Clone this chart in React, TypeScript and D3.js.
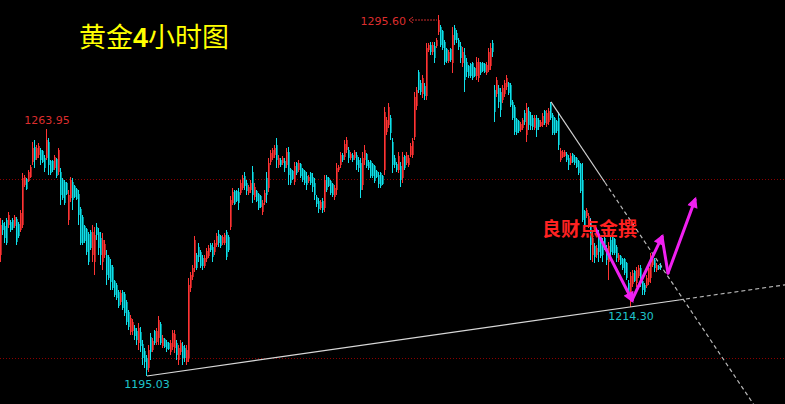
import * as d3 from 'd3'

// open, high, low, close
type Bar = [number, number, number, number]

const W = 785
const H = 404

// first rally to 1263.95
const legUp1: Bar[] = [
  [1228.8, 1239.1, 1226.8, 1237.1], [1237.7, 1238.5, 1234.3, 1235.7], [1236.8, 1237.9, 1232.1, 1233.5],
  [1238.5, 1239.1, 1231.5, 1232.1], [1237.1, 1240.7, 1236.3, 1239.9], [1237.9, 1238.5, 1235.2, 1235.7],
  [1238.5, 1239.1, 1235.7, 1236.3], [1236.8, 1239.9, 1236.3, 1239.3], [1238.7, 1239.3, 1231.5, 1232.4],
  [1237.4, 1237.9, 1233.5, 1234.0], [1235.7, 1241.3, 1235.2, 1240.4], [1237.1, 1251.6, 1236.3, 1250.2],
  [1248.3, 1251.0, 1247.7, 1250.5], [1249.9, 1250.2, 1246.9, 1247.1], [1249.4, 1252.4, 1249.1, 1251.9],
  [1250.5, 1253.8, 1250.2, 1253.3], [1254.7, 1260.2, 1253.8, 1258.6], [1258.8, 1260.8, 1253.0, 1255.2],
  [1255.8, 1259.4, 1255.2, 1258.6], [1256.6, 1260.0, 1255.8, 1259.1], [1258.0, 1258.6, 1253.8, 1255.2],
  [1257.7, 1258.0, 1254.4, 1254.7], [1255.8, 1256.6, 1251.9, 1253.0], [1255.8, 1263.95, 1255.2, 1260.8],
  [1260.2, 1261.4, 1251.0, 1253.8], [1254.9, 1255.2, 1251.0, 1251.6], [1254.9, 1255.2, 1251.9, 1252.4],
  [1253.0, 1256.6, 1252.4, 1256.0], [1255.5, 1255.8, 1250.2, 1250.8], [1251.9, 1258.6, 1251.0, 1258.0],
]

// slide down to 1195.03
const legDown1: Bar[] = [
  [1251.9, 1253.0, 1242.7, 1245.5], [1249.7, 1250.2, 1244.1, 1244.6], [1249.1, 1249.7, 1242.7, 1243.2],
  [1248.8, 1249.1, 1245.5, 1245.8], [1238.5, 1246.9, 1237.1, 1245.5], [1244.6, 1250.5, 1243.5, 1249.7],
  [1249.1, 1250.2, 1241.3, 1244.1], [1248.0, 1248.3, 1244.6, 1244.9], [1247.1, 1247.4, 1244.1, 1244.4],
  [1245.8, 1246.9, 1237.1, 1239.9], [1241.6, 1242.1, 1231.5, 1232.1], [1239.3, 1239.9, 1231.5, 1232.1],
  [1236.8, 1237.1, 1232.1, 1232.6], [1236.0, 1236.3, 1228.8, 1229.6], [1234.6, 1235.2, 1226.0, 1226.8],
  [1235.2, 1235.7, 1230.2, 1230.7], [1228.8, 1237.1, 1226.8, 1235.2], [1226.8, 1236.6, 1223.2, 1234.3],
  [1236.6, 1237.7, 1232.9, 1234.3], [1235.2, 1236.3, 1228.8, 1230.7], [1233.5, 1235.2, 1226.0, 1228.8],
  [1226.8, 1234.9, 1224.6, 1232.9], [1228.8, 1232.9, 1227.9, 1231.8], [1228.8, 1230.2, 1220.4, 1223.2],
  [1228.2, 1228.8, 1221.8, 1222.3], [1226.0, 1227.6, 1219.0, 1221.2], [1225.4, 1226.0, 1219.0, 1219.6],
  [1221.5, 1221.8, 1217.1, 1217.6], [1220.4, 1220.9, 1216.2, 1216.8], [1218.4, 1219.0, 1214.0, 1214.5],
  [1215.7, 1219.0, 1214.8, 1218.2], [1218.4, 1219.0, 1213.4, 1214.0], [1217.9, 1218.4, 1211.8, 1212.6],
  [1215.7, 1216.2, 1209.3, 1210.1], [1212.9, 1213.4, 1207.9, 1208.7], [1207.3, 1212.0, 1206.5, 1211.2],
  [1207.6, 1210.9, 1206.5, 1210.1], [1208.5, 1209.3, 1205.1, 1206.2], [1207.6, 1208.5, 1203.7, 1205.1],
  [1204.2, 1209.8, 1202.3, 1208.5], [1207.3, 1208.7, 1201.7, 1203.4], [1204.0, 1205.1, 1198.1, 1200.1],
  [1202.0, 1202.8, 1197.3, 1198.9], [1200.1, 1200.9, 1195.03, 1196.7], [1197.3, 1203.7, 1196.2, 1202.3],
  [1205.9, 1207.0, 1199.5, 1201.7], [1202.3, 1205.6, 1201.7, 1204.8], [1207.6, 1207.9, 1203.7, 1204.2],
  [1204.5, 1208.5, 1203.7, 1207.6], [1205.6, 1211.8, 1203.7, 1210.6], [1209.5, 1210.1, 1203.7, 1204.2],
  [1203.4, 1206.5, 1202.8, 1205.6], [1205.4, 1205.6, 1202.8, 1203.1], [1204.5, 1205.1, 1201.7, 1202.6],
  [1204.2, 1204.5, 1202.3, 1202.6], [1201.7, 1205.1, 1200.9, 1204.2], [1203.1, 1207.9, 1202.3, 1207.0],
  [1202.8, 1207.9, 1201.5, 1206.7], [1204.2, 1205.1, 1199.5, 1200.9], [1199.5, 1203.7, 1198.1, 1202.8],
  [1201.7, 1205.1, 1200.9, 1204.2], [1203.4, 1204.5, 1198.1, 1200.1], [1202.8, 1203.7, 1198.9, 1200.1],
  [1198.9, 1203.7, 1198.1, 1202.3],
]

// recovery and range
const legUp2: Bar[] = [
  [1200.1, 1222.3, 1198.9, 1220.4], [1219.6, 1224.0, 1218.4, 1223.2], [1222.6, 1226.0, 1221.8, 1225.1],
  [1225.1, 1234.0, 1224.0, 1232.9], [1228.8, 1229.3, 1224.6, 1225.1], [1231.0, 1232.1, 1226.8, 1228.2],
  [1229.6, 1230.2, 1225.1, 1225.7], [1227.9, 1228.8, 1224.6, 1225.7], [1225.7, 1228.8, 1225.1, 1227.9],
  [1227.6, 1230.7, 1226.8, 1229.9], [1228.5, 1231.5, 1227.9, 1230.7], [1231.5, 1232.1, 1229.6, 1230.2],
  [1231.0, 1232.1, 1226.8, 1228.2], [1229.6, 1232.9, 1228.8, 1232.1], [1231.5, 1234.9, 1231.0, 1234.0],
  [1234.6, 1235.7, 1231.0, 1232.1], [1234.0, 1234.3, 1230.7, 1231.3], [1232.1, 1234.3, 1231.5, 1233.8],
  [1232.1, 1234.9, 1231.5, 1234.3], [1235.2, 1235.7, 1227.4, 1228.2], [1233.8, 1234.3, 1229.6, 1230.2],
  [1236.6, 1245.2, 1235.7, 1244.1], [1243.2, 1247.4, 1242.7, 1246.3], [1246.6, 1246.9, 1242.7, 1243.0],
  [1246.6, 1246.9, 1243.5, 1243.8], [1246.3, 1247.4, 1241.3, 1243.2], [1246.1, 1249.7, 1245.5, 1248.8],
  [1247.4, 1251.0, 1246.9, 1250.2], [1250.8, 1251.9, 1246.9, 1248.0], [1248.8, 1249.7, 1245.5, 1246.6],
  [1246.1, 1248.3, 1245.5, 1247.7], [1246.9, 1249.7, 1246.1, 1248.8], [1251.9, 1253.5, 1243.2, 1245.5],
  [1244.9, 1248.8, 1244.1, 1247.7], [1246.6, 1246.9, 1243.5, 1243.8], [1245.8, 1246.1, 1241.3, 1241.9],
  [1245.2, 1245.5, 1241.9, 1242.1], [1240.7, 1244.1, 1239.9, 1243.2], [1243.5, 1246.9, 1242.7, 1246.1],
  [1250.2, 1251.9, 1243.2, 1245.5], [1247.4, 1255.8, 1246.3, 1254.4], [1254.7, 1258.0, 1253.8, 1257.2],
  [1255.8, 1258.6, 1255.2, 1258.0], [1256.6, 1259.4, 1255.8, 1258.6], [1259.4, 1261.4, 1253.0, 1255.2],
  [1253.8, 1256.6, 1253.0, 1255.8], [1255.2, 1255.8, 1253.3, 1253.8], [1254.4, 1256.3, 1253.8, 1255.8],
  [1254.9, 1255.8, 1251.9, 1253.0], [1253.8, 1258.6, 1253.0, 1257.5], [1257.5, 1258.8, 1248.3, 1251.0],
  [1252.7, 1253.0, 1248.3, 1248.8], [1252.2, 1252.4, 1249.7, 1249.9], [1249.1, 1254.7, 1248.3, 1253.5],
  [1254.4, 1254.7, 1251.0, 1251.6], [1252.4, 1255.2, 1251.9, 1254.4], [1254.1, 1254.4, 1250.2, 1250.8],
  [1252.7, 1253.0, 1249.1, 1249.7], [1252.2, 1252.4, 1248.3, 1248.8], [1250.8, 1251.9, 1246.9, 1248.3],
  [1249.4, 1251.0, 1248.8, 1250.5], [1251.6, 1251.9, 1248.3, 1248.8], [1250.5, 1251.6, 1246.3, 1247.7],
  [1248.8, 1250.2, 1244.1, 1245.5], [1244.9, 1245.5, 1242.1, 1243.0], [1243.8, 1244.6, 1240.4, 1241.6],
  [1241.9, 1244.1, 1241.3, 1243.5], [1243.8, 1244.6, 1240.4, 1241.3], [1241.9, 1251.0, 1240.7, 1249.7],
  [1250.5, 1251.0, 1246.3, 1246.9], [1250.2, 1250.5, 1247.7, 1248.0], [1249.4, 1249.7, 1245.5, 1246.1],
  [1248.5, 1248.8, 1244.9, 1245.5], [1244.9, 1248.3, 1244.1, 1247.4], [1246.9, 1254.4, 1245.5, 1253.0],
  [1252.4, 1253.8, 1251.9, 1253.3], [1253.8, 1257.5, 1253.0, 1256.6], [1256.6, 1257.2, 1254.7, 1255.2],
  [1256.0, 1260.8, 1255.2, 1259.7], [1258.0, 1261.6, 1257.2, 1260.8], [1258.0, 1258.8, 1254.4, 1255.8],
  [1255.8, 1257.5, 1255.2, 1256.9], [1256.6, 1257.2, 1254.7, 1255.2], [1255.8, 1258.0, 1255.2, 1257.5],
  [1256.6, 1257.5, 1252.4, 1253.8], [1255.2, 1256.0, 1251.9, 1253.0], [1254.4, 1255.8, 1244.6, 1246.9],
  [1248.3, 1257.5, 1246.9, 1255.8], [1255.2, 1259.4, 1253.8, 1258.0], [1256.9, 1257.2, 1253.0, 1253.5],
  [1254.7, 1255.2, 1252.4, 1253.0], [1254.9, 1255.2, 1250.2, 1250.8], [1254.1, 1254.4, 1250.2, 1250.8],
  [1253.5, 1253.8, 1248.8, 1249.4], [1252.2, 1252.4, 1250.2, 1250.5], [1251.0, 1251.9, 1247.4, 1248.5],
  [1251.6, 1251.9, 1247.4, 1248.0], [1250.8, 1251.0, 1248.3, 1248.5],
]

// breakout to 1295.60
const legBreakout: Bar[] = [
  [1252.4, 1270.0, 1251.0, 1268.6], [1263.0, 1267.2, 1262.2, 1266.4], [1265.0, 1271.1, 1264.1, 1270.0],
  [1266.9, 1267.8, 1260.8, 1262.7], [1260.2, 1261.4, 1251.6, 1253.8], [1255.8, 1256.6, 1253.0, 1253.8],
  [1254.1, 1254.7, 1251.9, 1252.4], [1252.4, 1257.5, 1251.6, 1256.3], [1253.5, 1254.7, 1247.7, 1249.7],
  [1250.2, 1257.5, 1248.8, 1256.0], [1256.3, 1256.6, 1252.4, 1253.0], [1254.4, 1257.5, 1253.8, 1256.6],
  [1253.8, 1256.6, 1253.3, 1255.8], [1256.6, 1260.0, 1256.0, 1259.1], [1256.6, 1261.4, 1255.8, 1260.5],
  [1261.6, 1274.2, 1260.8, 1272.8], [1270.3, 1275.6, 1269.2, 1274.7], [1279.7, 1280.3, 1273.9, 1274.7],
  [1276.7, 1277.5, 1273.3, 1274.2], [1273.6, 1278.9, 1272.5, 1278.1], [1275.8, 1276.7, 1271.9, 1273.1],
  [1273.1, 1287.8, 1271.9, 1286.4], [1285.9, 1287.8, 1285.3, 1287.3], [1287.3, 1288.1, 1284.5, 1285.3],
  [1285.3, 1288.1, 1284.5, 1287.3], [1287.0, 1288.1, 1282.2, 1283.6], [1287.0, 1289.2, 1286.4, 1288.7],
  [1290.9, 1295.6, 1290.0, 1294.2], [1292.3, 1292.8, 1286.7, 1287.3], [1291.2, 1291.4, 1285.9, 1286.4],
  [1288.1, 1288.7, 1281.7, 1282.5], [1286.2, 1286.4, 1282.2, 1282.8], [1282.8, 1285.9, 1282.2, 1285.3],
  [1286.2, 1286.4, 1282.5, 1283.1], [1282.2, 1292.3, 1279.5, 1290.0], [1292.0, 1292.8, 1287.3, 1288.7],
  [1290.6, 1291.4, 1287.8, 1288.7], [1288.7, 1289.2, 1285.9, 1286.7], [1287.0, 1288.1, 1282.2, 1283.6],
  [1282.2, 1286.7, 1281.1, 1285.3], [1284.5, 1286.4, 1274.2, 1277.5], [1282.5, 1283.6, 1278.3, 1279.7],
  [1281.4, 1281.7, 1278.1, 1278.6], [1282.0, 1282.2, 1278.1, 1278.6], [1282.2, 1282.5, 1277.5, 1278.1],
  [1280.8, 1281.1, 1278.3, 1278.6], [1278.6, 1283.9, 1277.5, 1282.5], [1278.1, 1283.6, 1277.0, 1282.5],
  [1282.2, 1282.5, 1278.9, 1279.5], [1282.2, 1282.5, 1279.7, 1280.0], [1282.0, 1282.2, 1279.5, 1279.7],
  [1279.5, 1282.5, 1278.9, 1281.7], [1280.3, 1286.4, 1279.7, 1285.3], [1281.4, 1287.8, 1280.3, 1286.4],
  [1287.8, 1288.7, 1283.9, 1285.3],
]

// decline to 1214.30 and bounce
const legDown2: Bar[] = [
  [1274.7, 1276.1, 1265.8, 1268.6], [1273.6, 1278.3, 1272.8, 1277.5], [1275.3, 1276.1, 1269.7, 1271.4],
  [1274.2, 1275.3, 1267.2, 1269.2], [1271.9, 1276.1, 1271.1, 1275.3], [1273.6, 1277.5, 1272.8, 1276.7],
  [1275.6, 1278.9, 1274.7, 1278.1], [1276.7, 1277.0, 1273.3, 1273.9], [1276.1, 1276.7, 1270.0, 1270.5],
  [1271.4, 1271.9, 1266.4, 1266.9], [1270.0, 1270.5, 1262.2, 1263.0], [1266.6, 1266.9, 1262.2, 1262.7],
  [1266.1, 1266.4, 1262.7, 1263.3], [1263.6, 1265.8, 1263.0, 1265.3], [1264.1, 1266.9, 1263.6, 1266.4],
  [1268.3, 1269.2, 1265.0, 1265.8], [1262.2, 1271.1, 1260.2, 1269.7], [1268.9, 1270.0, 1263.6, 1265.0],
  [1267.8, 1268.6, 1263.6, 1264.7], [1266.9, 1267.8, 1263.6, 1264.4], [1264.1, 1267.8, 1263.6, 1266.9],
  [1266.9, 1267.8, 1261.6, 1263.6], [1266.4, 1266.9, 1263.6, 1264.4], [1264.7, 1266.4, 1264.4, 1265.8],
  [1265.0, 1268.3, 1264.4, 1267.5], [1268.9, 1269.2, 1265.0, 1265.5], [1265.3, 1269.2, 1264.4, 1268.3],
  [1265.8, 1269.7, 1265.0, 1268.9], [1270.8, 1271.4, 1266.4, 1266.9], [1267.8, 1268.3, 1262.2, 1262.7],
  [1266.9, 1267.2, 1262.2, 1262.7], [1266.1, 1266.4, 1262.7, 1263.3], [1266.9, 1268.6, 1258.0, 1259.4],
  [1255.2, 1258.6, 1254.7, 1257.7], [1256.0, 1258.0, 1255.8, 1257.5], [1256.3, 1258.0, 1256.0, 1257.5],
  [1256.9, 1257.5, 1254.7, 1255.2], [1255.8, 1256.6, 1252.4, 1253.8], [1254.4, 1257.2, 1253.8, 1256.3],
  [1256.9, 1257.2, 1254.4, 1254.7], [1256.0, 1256.6, 1253.8, 1254.4], [1255.8, 1256.0, 1253.0, 1253.3],
  [1254.9, 1255.2, 1251.0, 1251.6], [1254.1, 1254.4, 1246.1, 1246.6], [1249.7, 1254.4, 1237.9, 1238.5],
  [1241.0, 1241.3, 1236.3, 1236.8], [1239.6, 1241.9, 1239.1, 1241.3], [1236.8, 1240.4, 1236.3, 1239.6],
  [1237.9, 1239.1, 1227.4, 1231.5], [1228.8, 1235.2, 1226.8, 1233.5], [1231.3, 1232.1, 1226.5, 1228.2],
  [1228.8, 1231.5, 1227.9, 1230.7], [1234.0, 1235.7, 1226.8, 1229.6], [1234.0, 1234.3, 1227.9, 1228.5],
  [1232.6, 1233.5, 1226.8, 1228.8], [1233.5, 1233.8, 1230.2, 1230.7], [1230.7, 1231.5, 1226.0, 1227.4],
  [1226.8, 1232.4, 1221.8, 1231.3], [1232.9, 1233.8, 1227.9, 1229.6], [1234.0, 1234.3, 1228.8, 1229.3],
  [1233.2, 1233.5, 1228.8, 1229.3], [1231.0, 1231.5, 1226.8, 1227.9], [1227.4, 1229.3, 1226.8, 1228.8],
  [1228.5, 1228.8, 1226.0, 1226.3], [1227.6, 1227.9, 1224.6, 1225.1], [1227.6, 1227.9, 1223.2, 1223.7],
  [1226.5, 1226.8, 1221.8, 1222.3], [1220.9, 1221.8, 1217.1, 1218.4], [1217.6, 1224.0, 1214.3, 1222.9],
  [1220.7, 1224.6, 1219.8, 1223.7], [1224.3, 1224.6, 1221.2, 1221.5], [1220.9, 1225.4, 1219.8, 1224.6],
  [1222.9, 1226.0, 1222.3, 1225.1], [1225.1, 1226.0, 1219.8, 1221.8], [1221.5, 1222.3, 1217.6, 1219.0],
  [1220.4, 1220.9, 1217.6, 1218.4], [1220.1, 1223.2, 1219.6, 1222.3], [1221.2, 1226.0, 1220.4, 1225.1],
  [1222.3, 1229.3, 1220.9, 1227.9], [1226.0, 1228.2, 1225.4, 1227.6], [1227.4, 1227.9, 1224.0, 1225.1],
  [1224.6, 1226.5, 1224.0, 1226.0], [1225.7, 1226.0, 1224.6, 1224.9], [1226.0, 1226.5, 1224.6, 1225.1],
]

const bars: Bar[] = [...legUp1, ...legDown1, ...legUp2, ...legBreakout, ...legDown2]

// marked extremes
const highMarks = [1263.95, 1295.6]
const lowMarks = [1195.03, 1214.3]
const highLabels = ['1263.95', '1295.60']
const lowLabels = ['1195.03', '1214.30']

// dotted horizontal levels
const levels = [1250, 1200]

// trendlines: [startIndex, startPrice, endIndex, endPrice], plus where the solid part stops
const upTrend = [73, 1195.03, 315, 1214.3]
const upTrendSolidTo = 339
const upTrendEnd = 393
const downTrend = [275, 1271.4, 375.5, 1187.8]
const downTrendSolidTo = 302
const downTrendEnd = 378

// forecast zigzag (bar index / price)
const zigIndex = [297, 315.5, 330.5, 333.5, 347]
const zigPrice = [1236.3, 1216.2, 1233.8, 1223.7, 1244.1]
const zigHeads = [true, true, false, true]

const x = d3.scaleLinear().domain([0, bars.length - 1]).range([0, 660])
const y = d3.scaleLinear().domain([1195.03, 1295.6]).range([376, 15])

const BULL_WICK = '#ff3434'
const BULL_BODY = '#a81e1e'
const BEAR_WICK = '#10e0ea'
const BEAR_BODY = '#00878c'

function lineAt(t: number[], i: number) {
  const [i0, p0, i1, p1] = t
  return p0 + ((i - i0) * (p1 - p0)) / (i1 - i0)
}

export default function App() {
  const line = d3.line<[number, number]>().x(d => x(d[0]) + 1).y(d => y(d[1]))

  const idxHigh = highMarks.map(v => bars.findIndex(b => b[1] === v))
  const idxLow = lowMarks.map(v => bars.findIndex(b => b[2] === v))

  const trendSeg = (t: number[], a: number, b: number) =>
    line([[a, lineAt(t, a)], [b, lineAt(t, b)]]) || ''

  const cx = (i: number) => x(i) + 1

  return (
    <svg
      width={W}
      height={H}
      style={{ position: 'absolute', left: 0, top: 0, display: 'block', background: '#000' }}
    >
      <defs>
        <marker id="head" viewBox="0 0 10 10" refX="7" refY="5" markerWidth="4.2" markerHeight="3.6" orient="auto">
          <path d="M0,0 L10,5 L0,10 z" fill="#f020f0" />
        </marker>
      </defs>
      <rect width={W} height={H} fill="#000" />

      {levels.map(l => (
        <line key={l} x1={0} x2={W} y1={Math.round(y(l)) + 0.5} y2={Math.round(y(l)) + 0.5}
          stroke="#8a0000" strokeDasharray="1 2" />
      ))}

      <g shapeRendering="crispEdges">
        {bars.map((b, i) => {
          const [o, h, l, c] = b
          const up = c >= o
          const left = Math.round(x(i))
          const top = y(Math.max(o, c))
          const bot = y(Math.min(o, c))
          return (
            <g key={i}>
              <rect x={left} y={top} width={2} height={Math.max(1, bot - top)} fill={up ? BULL_BODY : BEAR_BODY} />
              <line x1={left + 0.5} x2={left + 0.5} y1={y(h)} y2={y(l)} stroke={up ? BULL_WICK : BEAR_WICK} strokeWidth={1} />
            </g>
          )
        })}
      </g>

      {/* trendlines */}
      <path d={trendSeg(upTrend, upTrend[0], upTrendSolidTo)} stroke="#d8d8d8" strokeWidth={1.2} fill="none" />
      <path d={trendSeg(upTrend, upTrendSolidTo, upTrendEnd)} stroke="#b8b8b8" strokeWidth={1.2} strokeDasharray="4 3" fill="none" />
      <path d={trendSeg(downTrend, downTrend[0], downTrendSolidTo)} stroke="#d0d0d0" strokeWidth={1.2} fill="none" />
      <path d={trendSeg(downTrend, downTrendSolidTo, downTrendEnd)} stroke="#b8b8b8" strokeWidth={1.2} strokeDasharray="4 3" fill="none" />

      {/* high labels */}
      <text x={cx(idxHigh[0])} y={y(highMarks[0]) - 4.5} textAnchor="middle" fontFamily="DejaVu Sans, sans-serif"
        fontSize={11} fill="#dc2e2e">{highLabels[0]}</text>
      <text x={cx(idxHigh[1]) - 33} y={y(highMarks[1]) + 9.5} textAnchor="end" fontFamily="DejaVu Sans, sans-serif"
        fontSize={11} fill="#dc2e2e">{highLabels[1]}</text>
      <line x1={cx(idxHigh[1]) - 27} x2={cx(idxHigh[1]) - 2} y1={y(highMarks[1]) + 5} y2={y(highMarks[1]) + 5}
        stroke="#c82a2a" strokeDasharray="2 1" />
      <polyline
        points={`${cx(idxHigh[1]) - 26},${y(highMarks[1]) + 2} ${cx(idxHigh[1]) - 30},${y(highMarks[1]) + 5} ${cx(idxHigh[1]) - 26},${y(highMarks[1]) + 8}`}
        stroke="#c82a2a" fill="none" />

      {/* low labels */}
      <text x={cx(idxLow[0])} y={y(lowMarks[0]) + 12} textAnchor="middle" fontFamily="DejaVu Sans, sans-serif"
        fontSize={11} fill="#1fc4cc">{lowLabels[0]}</text>
      <text x={cx(idxLow[1])} y={y(lowMarks[1]) + 13} textAnchor="middle" fontFamily="DejaVu Sans, sans-serif"
        fontSize={11} fill="#1fc4cc">{lowLabels[1]}</text>

      {/* forecast arrows */}
      {zigHeads.map((head, k) => (
        <path key={k}
          d={line([[zigIndex[k], zigPrice[k]], [zigIndex[k + 1], zigPrice[k + 1]]]) || ''}
          stroke="#f020f0" strokeWidth={3} fill="none" strokeLinecap="round"
          markerEnd={head ? 'url(#head)' : undefined} />
      ))}

      <text x={542} y={236} fontFamily="Noto Sans CJK SC, sans-serif" fontWeight="bold" fontSize={19} fill="#ff2222">
        良财点金撰
      </text>

      <text x={79} y={47} fontFamily="Noto Sans CJK SC, sans-serif" fontSize={27} fill="#ffff00">
        黄金<tspan fontFamily="Liberation Sans, Arial, sans-serif" fontWeight="bold">4</tspan>小时图
      </text>
    </svg>
  )
}
